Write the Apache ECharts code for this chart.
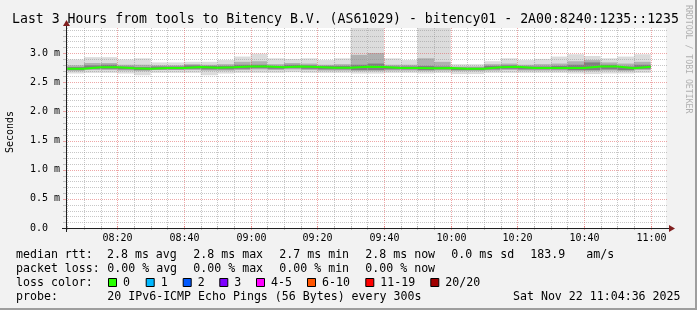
<!DOCTYPE html>
<html><head><meta charset="utf-8">
<script src="https://cdn.jsdelivr.net/npm/echarts@6/dist/echarts.min.js"></script>
<style>html,body{margin:0;padding:0;background:#f2f2f2}#c{width:697px;height:310px}</style>
</head><body><div id="c"></div><script>
// ---- data (ms) ----
const bucketStart = ['08:05','08:10','08:15','08:20','08:25','08:30','08:35','08:40','08:45','08:50','08:55','09:00','09:05','09:10','09:15','09:20','09:25','09:30','09:35','09:40','09:45','09:50','09:55','10:00','10:05','10:10','10:15','10:20','10:25','10:30','10:35','10:40','10:45','10:50','10:55'];
const median = [2.73,2.755,2.755,2.74,2.73,2.745,2.745,2.76,2.75,2.755,2.77,2.77,2.755,2.77,2.76,2.75,2.75,2.765,2.76,2.745,2.745,2.74,2.745,2.73,2.73,2.755,2.765,2.745,2.745,2.745,2.745,2.77,2.77,2.74,2.765];
const lo = [2.65,2.66,2.66,2.65,2.62,2.66,2.66,2.66,2.62,2.65,2.66,2.66,2.66,2.67,2.66,2.66,2.66,2.65,2.65,2.66,2.66,2.65,2.66,2.64,2.64,2.66,2.66,2.66,2.66,2.66,2.65,2.64,2.65,2.65,2.66];
const q1 = [2.69,2.71,2.71,2.70,2.69,2.71,2.71,2.71,2.70,2.70,2.71,2.72,2.71,2.72,2.71,2.70,2.70,2.69,2.69,2.70,2.70,2.69,2.70,2.69,2.69,2.70,2.71,2.70,2.70,2.70,2.69,2.69,2.70,2.69,2.71];
const darkLo = [2.71,2.73,2.73,2.72,2.71,2.72,2.72,2.73,2.72,2.72,2.73,2.74,2.73,2.74,2.73,2.72,2.72,2.71,2.71,2.72,2.72,2.71,2.72,2.71,2.71,2.72,2.73,2.72,2.72,2.72,2.71,2.71,2.72,2.71,2.73];
const darkHi = [2.76,2.79,2.80,2.77,2.76,2.77,2.77,2.79,2.78,2.78,2.80,2.80,2.78,2.80,2.79,2.78,2.78,2.80,2.82,2.77,2.77,2.78,2.77,2.75,2.75,2.78,2.79,2.77,2.77,2.78,2.80,2.84,2.80,2.77,2.80];
const q3 = [2.79,2.83,2.83,2.80,2.80,2.79,2.79,2.81,2.80,2.81,2.85,2.86,2.81,2.83,2.82,2.80,2.81,2.97,3.00,2.80,2.80,2.91,2.85,2.77,2.77,2.81,2.82,2.80,2.81,2.82,2.86,2.88,2.84,2.82,2.85];
const hi = [2.89,2.93,2.93,2.89,2.91,2.84,2.84,2.85,2.85,2.88,2.94,2.99,2.91,2.90,2.91,2.88,2.91,3.60,3.60,2.91,2.88,3.60,3.60,2.81,2.81,2.86,2.91,2.88,2.90,2.94,2.98,2.95,2.91,2.94,2.98];
const stepMin = 5;
const xTickLabels = ['08:20','08:40','09:00','09:20','09:40','10:00','10:20','10:40','11:00'];
const rangeStart = '08:04:36', rangeEnd = '11:04:36';
const yMax = 3.43;
const lossLabels = ['0','1','2','3','4-5','6-10','11-19','20/20'];
const lossColors = ['#26ff00','#00b8ff','#0059ff','#7e00ff','#ff00ff','#ff5500','#ff0000','#a10000'];

function toMin(s){const p=s.split(':').map(Number);return p[0]*60+p[1]+(p[2]||0)/60;}
const xMin = toMin(rangeStart), xMax = toMin(rangeEnd);
const smokeData = bucketStart.map((s,i)=>[toMin(s), toMin(s)+stepMin, lo[i], q1[i], q3[i], hi[i], darkLo[i], darkHi[i]]);
const medData = bucketStart.map((s,i)=>[toMin(s), median[i]]);
medData.push([toMin(bucketStart[bucketStart.length-1])+stepMin, median[median.length-1]]);

const vGrid = []; for (let m = Math.ceil(xMin/5)*5; m < xMax; m += 5) vGrid.push(m);
const hGrid = []; for (let k = 1; k*0.1 < yMax; k++) hGrid.push(+(k*0.1).toFixed(1));
const majorX = new Set(xTickLabels.map(toMin));

const MONO = '"DejaVu Sans Mono", monospace';
const GRIDC = 'rgba(143,143,143,0.5)', MGRIDC = 'rgba(222,79,79,0.5)';

const chart = echarts.init(document.getElementById('c'), null, {renderer:'canvas'});
const G = {left:66, top:28, width:600, height:200};

function txt(text,x,y,opt){return {type:'text',silent:true,style:Object.assign({text,x,y,fill:'#000',fontSize:11.6,fontFamily:MONO,verticalAlign:'middle'},opt||{})};}

const graphics = [
  {type:'rect',shape:{x:695,y:0,width:2,height:310},style:{fill:'#9e9e9e'},silent:true},
  {type:'rect',shape:{x:0,y:308,width:697,height:2},style:{fill:'#9e9e9e'},silent:true},
  txt('Last 3 Hours from tools to Bitency B.V. (AS61029) - bitency01 - 2A00:8240:1235::1235',12,19.5,{fontSize:13.2}),
  {type:'text',silent:true,x:688,y:5,rotation:-Math.PI/2,style:{text:'RRDTOOL / TOBI OETIKER',x:0,y:0,fill:'#b0b0b0',fontSize:8.2,fontFamily:MONO,verticalAlign:'middle'}},
  {type:'text',silent:true,x:10.5,y:132,rotation:Math.PI/2,style:{text:'Seconds',x:0,y:0,fill:'#000',fontSize:10,fontFamily:MONO,align:'center',verticalAlign:'middle'}},
  // axes
  {type:'line',shape:{x1:62,y1:228.5,x2:670,y2:228.5},style:{stroke:'#1f1f1f',lineWidth:1},silent:true,z:100},
  {type:'line',shape:{x1:66.5,y1:232,x2:66.5,y2:25},style:{stroke:'#1f1f1f',lineWidth:1},silent:true,z:100},
  {type:'polygon',shape:{points:[[669,225],[675,228.5],[669,232]]},style:{fill:'#801f1f'},silent:true,z:100},
  {type:'polygon',shape:{points:[[63,26],[66.5,20],[70,26]]},style:{fill:'#801f1f'},silent:true,z:100},
  // legend rows
  txt('median rtt:',16,254.5), txt('2.8 ms avg',107,254.5), txt('2.8 ms max',193.3,254.5), txt('2.7 ms min',279.3,254.5),
  txt('2.8 ms now',365.3,254.5), txt('0.0 ms sd',451.3,254.5), txt('183.9',530.3,254.5), txt('am/s',586.3,254.5),
  txt('packet loss:',16,268.5), txt('0.00 % avg',107.3,268.5), txt('0.00 % max',193.3,268.5), txt('0.00 % min',279.3,268.5), txt('0.00 % now',365.3,268.5),
  txt('loss color:',16,282.5),
  txt('probe:',16,296.5), txt('20 IPv6-ICMP Echo Pings (56 Bytes) every 300s',107.3,296.5),
  txt('Sat Nov 22 11:04:36 2025',680.5,296.5,{align:'right'})
];
const sqX = [108,145.7,182.7,219.3,256,307,365.3,430.3];
lossLabels.forEach((l,i)=>{
  graphics.push({type:'rect',shape:{x:sqX[i]+0.5,y:278.5,width:8,height:8},style:{fill:lossColors[i],stroke:'#000',lineWidth:1},silent:true});
  graphics.push(txt(l,sqX[i]+15,282.5));
});

chart.setOption({
  animation:false,
  backgroundColor:'#f2f2f2',
  grid:Object.assign({show:true,backgroundColor:'#ffffff',borderWidth:0},G),
  xAxis:{type:'value',min:xMin,max:xMax,axisLine:{show:false},axisTick:{show:false},axisLabel:{show:false},splitLine:{show:false}},
  yAxis:{type:'value',min:0,max:yMax,interval:0.5,axisLine:{show:false},axisTick:{show:false},splitLine:{show:false},
    axisLabel:{margin:6,color:'#000',fontSize:10,fontFamily:MONO,
      formatter:v=>{const r=Math.round(v/0.5); if(Math.abs(v-r*0.5)>1e-6) return ''; return v===0?'0.0  ':(r*0.5).toFixed(1)+' m';}}},
  graphic:graphics,
  series:[
    {type:'custom',name:'smoke',clip:true,z:1,data:smokeData,
     renderItem:(p,api)=>{
       const x0=api.coord([api.value(0),0])[0], x1=api.coord([api.value(1),0])[0];
       const y=v=>api.coord([api.value(0),api.value(v)])[1];
       const yl=y(2), y1=y(3), y3=y(4), yh=y(5), d0=y(6), d1=y(7);
       return {type:'group',children:[
         {type:'rect',shape:{x:x0,y:yh,width:x1-x0,height:yl-yh},style:{fill:'#dcdcdc'}},
         {type:'rect',shape:{x:x0,y:y3,width:x1-x0,height:y1-y3},style:{fill:'#b0b0b0'}},
         {type:'rect',shape:{x:x0,y:d1,width:x1-x0,height:d0-d1},style:{fill:'#808080'}}
       ]};
     }},
    {type:'custom',name:'hgrid',clip:false,z:3,silent:true,data:hGrid.map(v=>[v]),
     renderItem:(p,api)=>{
       const v=api.value(0); const yy=Math.round(api.coord([xMin,v])[1])+0.5;
       const cs=p.coordSys; const major=Math.abs(v*2-Math.round(v*2))<1e-6;
       const c=major?MGRIDC:GRIDC;
       return {type:'group',children:[
         {type:'line',shape:{x1:cs.x,y1:yy,x2:cs.x+cs.width+2,y2:yy},style:{stroke:c,lineWidth:1,lineDash:[1,1]}},
         {type:'line',shape:{x1:cs.x-3,y1:yy,x2:cs.x+1,y2:yy},style:{stroke:c,lineWidth:1}}
       ]};
     }},
    {type:'custom',name:'vgrid',clip:false,z:3,silent:true,data:vGrid.map(v=>[v]),
     renderItem:(p,api)=>{
       const m=api.value(0); const xx=Math.round(api.coord([m,0])[0])+0.5;
       const cs=p.coordSys; const major=majorX.has(m);
       const c=major?MGRIDC:GRIDC;
       const ch=[
         {type:'line',shape:{x1:xx,y1:cs.y,x2:xx,y2:cs.y+cs.height},style:{stroke:c,lineWidth:1,lineDash:[1,1]}},
         {type:'line',shape:{x1:xx,y1:cs.y+cs.height-2,x2:xx,y2:cs.y+cs.height+2},style:{stroke:c,lineWidth:1}}
       ];
       if(major){
         const h=Math.floor(m/60), mm=Math.round(m%60);
         ch.push({type:'text',style:{text:(h<10?'0':'')+h+':'+(mm<10?'0':'')+mm,x:xx,y:238,align:'center',verticalAlign:'middle',fontSize:10,fontFamily:MONO,fill:'#000'}});
       }
       return {type:'group',children:ch};
     }},
    {type:'line',name:'median',z:4,step:'end',symbol:'none',data:medData,lineStyle:{color:'#26ff00',width:2},itemStyle:{color:'#26ff00'}}
  ]
});
</script></body></html>
